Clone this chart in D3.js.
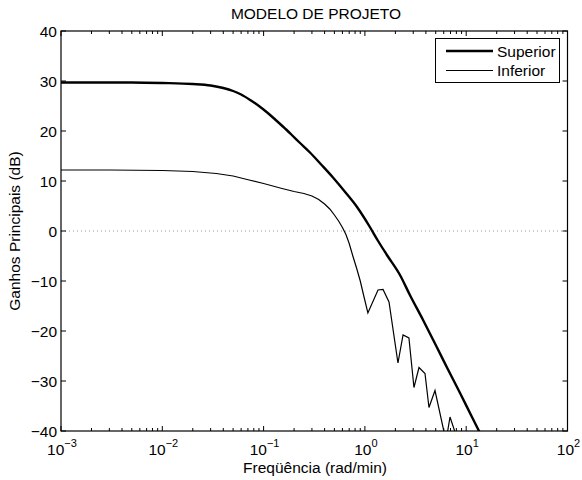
<!DOCTYPE html>
<html>
<head>
<meta charset="utf-8">
<title>Modelo de Projeto</title>
<style>
    body { margin: 0; background: #fff; }
    text { font-family: "Liberation Sans", Arial, Helvetica, sans-serif; fill: #000; }
    .tick-label { font-size: 15.5px; }
</style>
</head>
<body>
<div id="chart"></div>
<script src="https://d3js.org/d3.v7.min.js"></script>
<script>
    // values (freq in rad/min, gain in dB)
    const superiorFreq = [0.001, 0.005, 0.01, 0.02, 0.03, 0.04, 0.05, 0.06, 0.075, 0.09, 0.11, 0.13, 0.155, 0.19,
        0.229, 0.287, 0.37, 0.484, 0.65, 0.836, 1.12, 1.35, 1.65, 2.22, 2.78, 3.75, 5.15, 6.46, 8.69, 11.4, 13.07, 15];
    const superiorGain = [29.7, 29.7, 29.6, 29.4, 29.1, 28.6, 28.0, 27.3, 26.1, 25.0, 23.6, 22.3, 20.9, 19.2,
        17.6, 15.7, 13.3, 10.7, 7.6, 4.8, 0.8, -2.0, -4.8, -8.8, -12.8, -17.8, -23.3, -27.3, -32.4, -37.2, -39.6, -42];

    const inferiorFreq = [0.001, 0.003, 0.01, 0.02, 0.0341, 0.05, 0.072, 0.1, 0.152, 0.2, 0.25, 0.3, 0.35, 0.4,
        0.45, 0.5, 0.55, 0.6, 0.65, 0.7, 0.76, 0.83, 0.9, 0.97, 1.07, 1.347, 1.51, 1.73, 2.12, 2.38, 2.72, 3.05,
        3.42, 3.92, 4.29, 4.92, 6.32, 6.92, 8.3];
    const inferiorGain = [12.2, 12.2, 12.1, 11.9, 11.5, 11.0, 10.2, 9.5, 8.5, 7.9, 7.5, 7.0, 6.3, 5.4,
        4.4, 3.2, 2.0, 0.7, -0.7, -2.5, -5.0, -7.5, -10.0, -12.8, -16.4, -11.8, -11.7, -14.2, -26.4, -20.8, -21.4, -31.3,
        -27.3, -28.5, -35.3, -31.9, -42, -37.2, -42];

    const yTicks = [-40, -30, -20, -10, 0, 10, 20, 30, 40];
    const xDecades = [-3, -2, -1, 0, 1, 2];
    const seriesNames = ["Superior", "Inferior"];

    const width = 582, height = 480;
    const mLeft = 61, mRight = 567.5, mTop = 31, mBottom = 431;

    const svg = d3.select("#chart").append("svg")
        .attr("width", width)
        .attr("height", height);

    const x = d3.scaleLog().domain([1e-3, 1e2]).range([mLeft, mRight]);
    const y = d3.scaleLinear().domain([-40, 40]).range([mBottom, mTop]);

    svg.append("defs").append("clipPath").attr("id", "plotClip")
        .append("rect")
        .attr("x", mLeft).attr("y", mTop)
        .attr("width", mRight - mLeft).attr("height", mBottom - mTop);

    // zero line, dotted
    svg.append("line")
        .attr("x1", mLeft).attr("x2", mRight)
        .attr("y1", y(0)).attr("y2", y(0))
        .attr("stroke", "#999")
        .attr("stroke-width", 1)
        .attr("stroke-dasharray", "1,3");

    const plot = svg.append("g").attr("clip-path", "url(#plotClip)");

    // the upper curve is smooth, the lower one has straight zigzags
    plot.append("path")
        .datum(d3.zip(superiorFreq, superiorGain))
        .attr("d", d3.line().x(d => x(d[0])).y(d => y(d[1])).curve(d3.curveMonotoneX))
        .attr("fill", "none")
        .attr("stroke", "#000")
        .attr("stroke-width", 2.4)
        .attr("stroke-linejoin", "round");

    plot.append("path")
        .datum(d3.zip(inferiorFreq, inferiorGain))
        .attr("d", d3.line().x(d => x(d[0])).y(d => y(d[1])))
        .attr("fill", "none")
        .attr("stroke", "#000")
        .attr("stroke-width", 1.2)
        .attr("stroke-linejoin", "miter");

    // axes box
    svg.append("rect")
        .attr("x", mLeft).attr("y", mTop)
        .attr("width", mRight - mLeft).attr("height", mBottom - mTop)
        .attr("fill", "none")
        .attr("stroke", "#000")
        .attr("stroke-width", 1.2);

    const ticks = svg.append("g").attr("stroke", "#000").attr("stroke-width", 1);

    // x ticks (major and minor), inward on top and bottom
    const xMinor = [];
    for (let d = -3; d < 2; d++) {
        for (let m = 2; m <= 9; m++) xMinor.push(m * Math.pow(10, d));
    }
    xMinor.forEach(v => {
        ticks.append("line").attr("x1", x(v)).attr("x2", x(v)).attr("y1", mBottom).attr("y2", mBottom - 3);
        ticks.append("line").attr("x1", x(v)).attr("x2", x(v)).attr("y1", mTop).attr("y2", mTop + 3);
    });
    xDecades.forEach(p => {
        const v = Math.pow(10, p);
        ticks.append("line").attr("x1", x(v)).attr("x2", x(v)).attr("y1", mBottom).attr("y2", mBottom - 5);
        ticks.append("line").attr("x1", x(v)).attr("x2", x(v)).attr("y1", mTop).attr("y2", mTop + 5);
    });

    yTicks.forEach(v => {
        ticks.append("line").attr("x1", mLeft).attr("x2", mLeft + 5).attr("y1", y(v)).attr("y2", y(v));
        ticks.append("line").attr("x1", mRight).attr("x2", mRight - 5).attr("y1", y(v)).attr("y2", y(v));
    });

    // tick labels
    svg.selectAll(".ylab")
        .data(yTicks)
        .enter().append("text")
        .attr("class", "tick-label")
        .attr("x", mLeft - 4)
        .attr("y", d => y(d) + 6)
        .attr("text-anchor", "end")
        .text(d => d < 0 ? "\u2212" + Math.abs(d) : d);

    const xl = svg.selectAll(".xlab")
        .data(xDecades)
        .enter().append("text")
        .attr("class", "tick-label")
        .attr("x", d => x(Math.pow(10, d)) + 1)
        .attr("y", 455)
        .attr("text-anchor", "middle");
    xl.append("tspan").text("10");
    xl.append("tspan")
        .attr("dy", -8)
        .attr("font-size", 11)
        .text(d => d < 0 ? "\u2212" + Math.abs(d) : d);

    // title and axis labels
    svg.append("text")
        .attr("x", 316)
        .attr("y", 19)
        .attr("text-anchor", "middle")
        .attr("font-size", 15.5)
        .text("MODELO DE PROJETO");

    svg.append("text")
        .attr("x", 315)
        .attr("y", 473)
        .attr("text-anchor", "middle")
        .attr("font-size", 15.5)
        .text("Freqüência (rad/min)");

    svg.append("text")
        .attr("transform", "translate(19.5," + ((mTop + mBottom) / 2) + ") rotate(-90)")
        .attr("text-anchor", "middle")
        .attr("font-size", 15.5)
        .text("Ganhos Principais (dB)");

    // legend
    const legend = svg.append("g");
    legend.append("rect")
        .attr("x", 435.5).attr("y", 38.5)
        .attr("width", 124).attr("height", 44)
        .attr("fill", "#fff")
        .attr("stroke", "#000")
        .attr("stroke-width", 1);

    seriesNames.forEach((name, i) => {
        const ly = 51 + i * 19.5;
        legend.append("line")
            .attr("x1", 446).attr("x2", 493)
            .attr("y1", ly).attr("y2", ly)
            .attr("stroke", "#000")
            .attr("stroke-width", i === 0 ? 2.4 : 1.2);
        legend.append("text")
            .attr("x", 497)
            .attr("y", ly + 5.5)
            .attr("font-size", 15.5)
            .text(name);
    });
</script>
</body>
</html>
